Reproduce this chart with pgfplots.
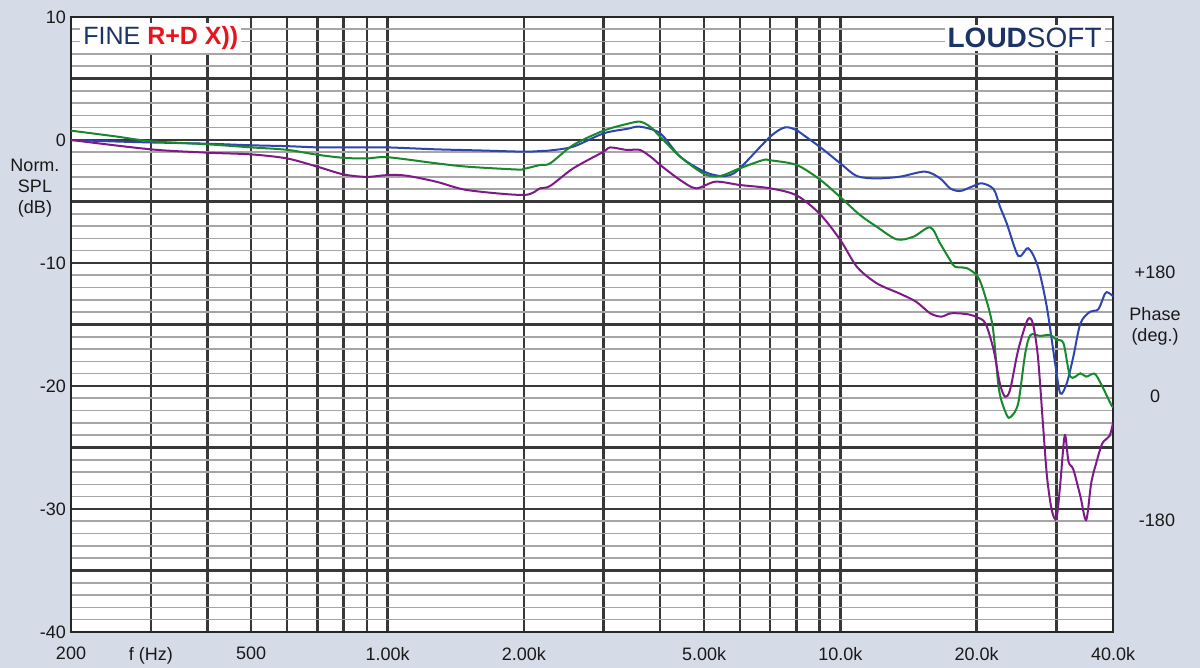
\documentclass[border=0pt]{standalone}
\usepackage{pgfplots}
\pgfplotsset{compat=1.18}
\usepackage{fontspec}
\setmainfont{Liberation Sans}

\definecolor{bgcol}{HTML}{D6DBE8}
\definecolor{cblue}{HTML}{2E45B0}
\definecolor{cgreen}{HTML}{17882C}
\definecolor{cpurple}{HTML}{7E1A87}
\definecolor{navy}{HTML}{1B3468}
\definecolor{logored}{HTML}{E8141B}

\begin{document}
\begin{tikzpicture}
\fill[bgcol] (-35.5pt,-18pt) rectangle (564.5pt,316pt);
\begin{axis}[
    scale only axis,
    width=521pt, height=307.5pt,
    xmode=log,
    xmin=200, xmax=40000,
    ymin=-40, ymax=10,
    axis background/.style={fill=white},
    axis line style={black!85, line width=1.2pt},
    xtick={200,300,400,500,600,700,800,900,1000,2000,3000,4000,5000,6000,7000,8000,9000,10000,20000,30000,40000},
    xticklabels={200,f (Hz),{},500,{},{},{},{},1.00k,2.00k,{},{},5.00k,{},{},{},{},10.0k,20.0k,{},40.0k},
    ytick={-40,-35,...,10},
    yticklabels={-40,{},-30,{},-20,{},-10,{},0,{},10},
    minor y tick num=4,
    xminorticks=false,
    major tick length=0pt, minor tick length=0pt,
    xmajorgrids, ymajorgrids, yminorgrids,
    major grid style={black!78, line width=1.2pt},
    minor grid style={black!35, line width=0.8pt},
    extra y ticks={0},
    extra y tick labels={},
    extra y tick style={grid style={black, line width=1.8pt}},
    /pgf/number format/assume math mode=true,
    tick label style={font=\fontsize{9}{10}\selectfont, black!90},
    xticklabel style={yshift=-4pt},
    yticklabel style={xshift=1pt},
    every axis plot/.append style={line width=1pt, smooth, no marks},
]
% blue
\addplot[cblue] coordinates {
(200,0) (250,-0.12) (300,-0.2) (400,-0.3) (500,-0.43) (600,-0.5) (700,-0.6) (800,-0.6) (900,-0.6) (1000,-0.6)
(1284,-0.76) (1600,-0.85) (2000,-0.95) (2171,-0.9) (2285,-0.85) (2572,-0.54) (3000,0.54) (3375,0.9) (3611,1.08)
(4000,0.54) (4426,-1.35) (5000,-2.57) (5425,-2.93) (5710,-2.85) (6000,-2.3) (7000,0.27) (7550,1.03) (8000,0.8)
(8148,0.6) (9000,-0.55) (10000,-1.9) (10870,-2.93) (12030,-3.12) (13550,-2.98) (15380,-2.57) (16600,-3.12)
(17470,-3.93) (18380,-4.15) (19500,-3.8) (20530,-3.52) (21800,-4.0) (22500,-5.4) (23300,-6.78) (24720,-9.43)
(26000,-8.8) (27300,-10.3) (28560,-13.55) (29800,-18.15) (30600,-20.6) (31600,-19.8) (32700,-17.6) (33900,-14.9)
(35600,-13.96) (37100,-13.77) (38400,-12.5) (39000,-12.4) (40000,-12.7)
};
% green
\addplot[cgreen] coordinates {
(200,0.76) (250,0.3) (300,-0.1) (400,-0.35) (500,-0.6) (600,-0.8) (700,-1.2) (800,-1.45) (900,-1.5) (1000,-1.4)
(1284,-1.9) (1500,-2.17) (1930,-2.4) (2000,-2.35) (2171,-2.03) (2285,-1.9) (2572,-0.4) (3000,0.76) (3375,1.3)
(3611,1.49) (3800,1.08) (4000,0.27) (4426,-1.35) (5000,-2.76) (5425,-2.93) (6000,-2.3) (6750,-1.63) (7000,-1.65)
(8000,-2.03) (9000,-3.2) (10000,-4.65) (11050,-6.1) (12030,-7.05) (13320,-8.08) (14500,-7.86) (15800,-7.1)
(16600,-8.4) (17470,-9.76) (17900,-10.3) (19050,-10.43) (20100,-11.1) (20800,-12.5) (21700,-15.2) (22400,-20.3)
(23300,-22.36) (23800,-22.5) (24700,-21.4) (25600,-17.34) (26300,-15.85) (27600,-15.93) (29100,-15.85)
(30000,-16.26) (31100,-16.53) (32200,-19.24) (33900,-18.97) (34900,-19.24) (36400,-19.0) (37600,-19.8)
(39600,-21.5) (40000,-21.7)
};
% purple
\addplot[cpurple] coordinates {
(200,0) (300,-0.76) (400,-1.03) (500,-1.17) (600,-1.5) (700,-2.17) (800,-2.8) (900,-3.0) (1000,-2.85) (1100,-2.9)
(1284,-3.4) (1500,-4.07) (2000,-4.47) (2171,-3.93) (2285,-3.74) (2572,-2.3) (3000,-0.95) (3100,-0.6) (3375,-0.81)
(3611,-0.81) (3850,-1.49) (4000,-2.03) (4426,-3.25) (4800,-3.93) (5300,-3.39) (6000,-3.66) (7000,-3.93)
(8000,-4.5) (9000,-6.0) (10000,-8.13) (10870,-10.3) (12030,-11.65) (13550,-12.5) (14700,-13.15) (15800,-14.1)
(16700,-14.36) (17470,-14.1) (18400,-14.1) (19300,-14.2) (20000,-14.4) (20900,-14.9) (21800,-17.07)
(22500,-19.8) (23100,-20.87) (23700,-20.3) (24700,-17.07) (25900,-14.63) (26600,-14.9) (27300,-17.6)
(28000,-23.0) (28600,-27.4) (29300,-30.1) (30000,-30.76) (30600,-27.9) (31300,-24.0) (31900,-26.15)
(32700,-26.8) (33900,-29.0) (34900,-30.9) (35800,-27.9) (36700,-26.3) (37900,-24.65) (39300,-24.07) (40000,-23.0)
};
\end{axis}
% logos
\node[anchor=west, fill=white, inner sep=1.5pt, font=\fontsize{12.5}{12.5}\selectfont] at (4.5pt,297pt)
  {\textcolor{navy}{FINE} \textcolor{logored}{\textbf{R+D X))}}};
\node[anchor=east, fill=white, inner sep=1.5pt, font=\fontsize{14}{14}\selectfont, text=navy] at (517pt,297pt)
  {\textbf{LOUD}SOFT};
% axis titles
\node[align=center, font=\fontsize{9}{10.5}\selectfont, text=black!90] at (-18pt,222pt) {Norm.\\SPL\\(dB)};
\node[font=\fontsize{9}{10}\selectfont, text=black!90] at (542pt,180pt) {+180};
\node[align=center, font=\fontsize{9}{10.5}\selectfont, text=black!90] at (542pt,153pt) {Phase\\(deg.)};
\node[font=\fontsize{9}{10}\selectfont, text=black!90] at (542pt,118pt) {0};
\node[font=\fontsize{9}{10}\selectfont, text=black!90] at (543pt,56pt) {-180};
\pgfresetboundingbox
\path (-35.5pt,-18pt) rectangle (564.5pt,316pt);
\end{tikzpicture}
\end{document}
